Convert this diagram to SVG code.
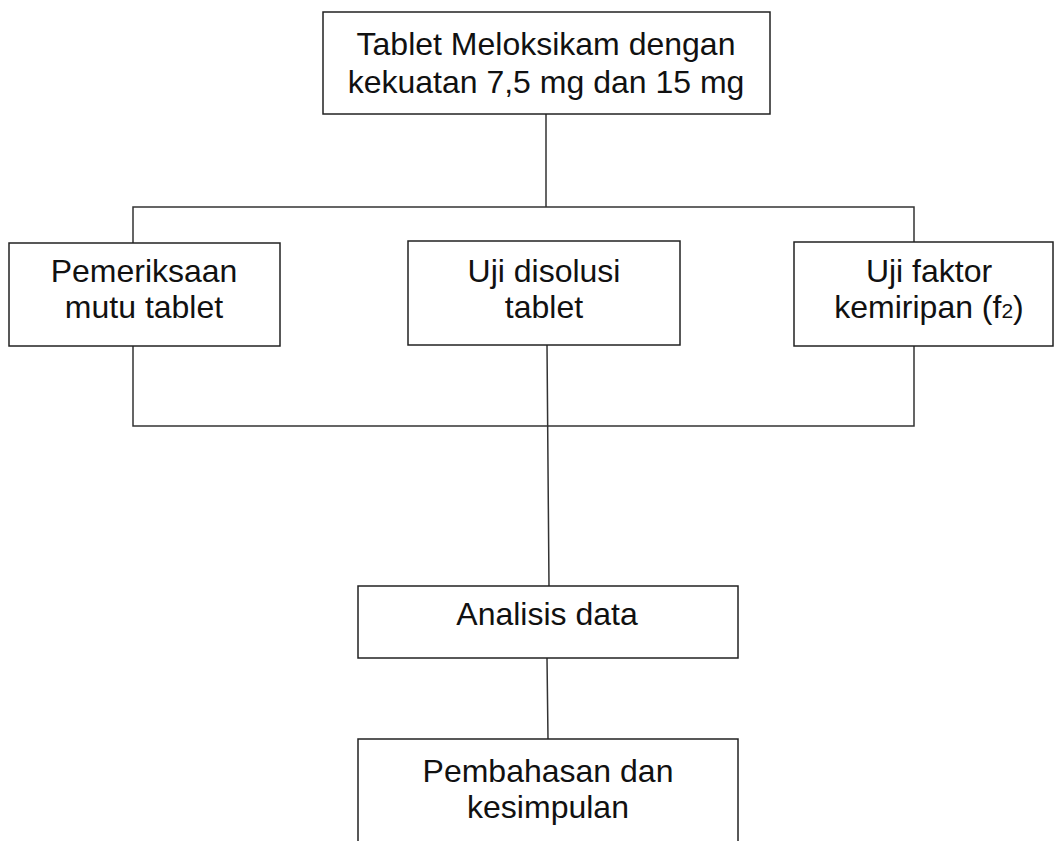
<svg xmlns="http://www.w3.org/2000/svg" width="1055" height="841" viewBox="0 0 1055 841">
<style>
rect{fill:#fff;stroke:#222;stroke-width:1.5}
.c{fill:none;stroke:#333;stroke-width:1.5}
text{font-family:"Liberation Sans",Arial,sans-serif;font-size:32px;fill:#111;text-anchor:middle}
</style>
<rect x="0" y="0" width="1055" height="841" style="stroke:none"/>
<g id="connectors">
<path class="c" d="M546,114 V207 M133,244 V207 H914 V242 M133,346 V426 H914 V346 M547,345 L549,586 M547,658 L548,739"/>
</g>
<g id="n1"><rect x="323" y="12" width="447" height="102"/>
<text x="546" y="55">Tablet Meloksikam dengan</text>
<text x="546" y="93">kekuatan 7,5 mg dan 15 mg</text></g>
<g id="n2"><rect x="9" y="243" width="271" height="103"/>
<text x="144" y="282">Pemeriksaan</text>
<text x="144" y="318">mutu tablet</text></g>
<g id="n3"><rect x="408" y="241" width="272" height="104"/>
<text x="544" y="282">Uji disolusi</text>
<text x="544" y="318">tablet</text></g>
<g id="n4"><rect x="794" y="242" width="259" height="104"/>
<text x="929" y="282">Uji faktor</text>
<text x="929" y="318">kemiripan (f<tspan font-size="21px">2</tspan>)</text></g>
<g id="n5"><rect x="358" y="586" width="380" height="72"/>
<text x="547" y="625">Analisis data</text></g>
<g id="n6"><rect x="358" y="739" width="380" height="110"/>
<text x="548" y="782">Pembahasan dan</text>
<text x="548" y="818">kesimpulan</text></g>
</svg>
